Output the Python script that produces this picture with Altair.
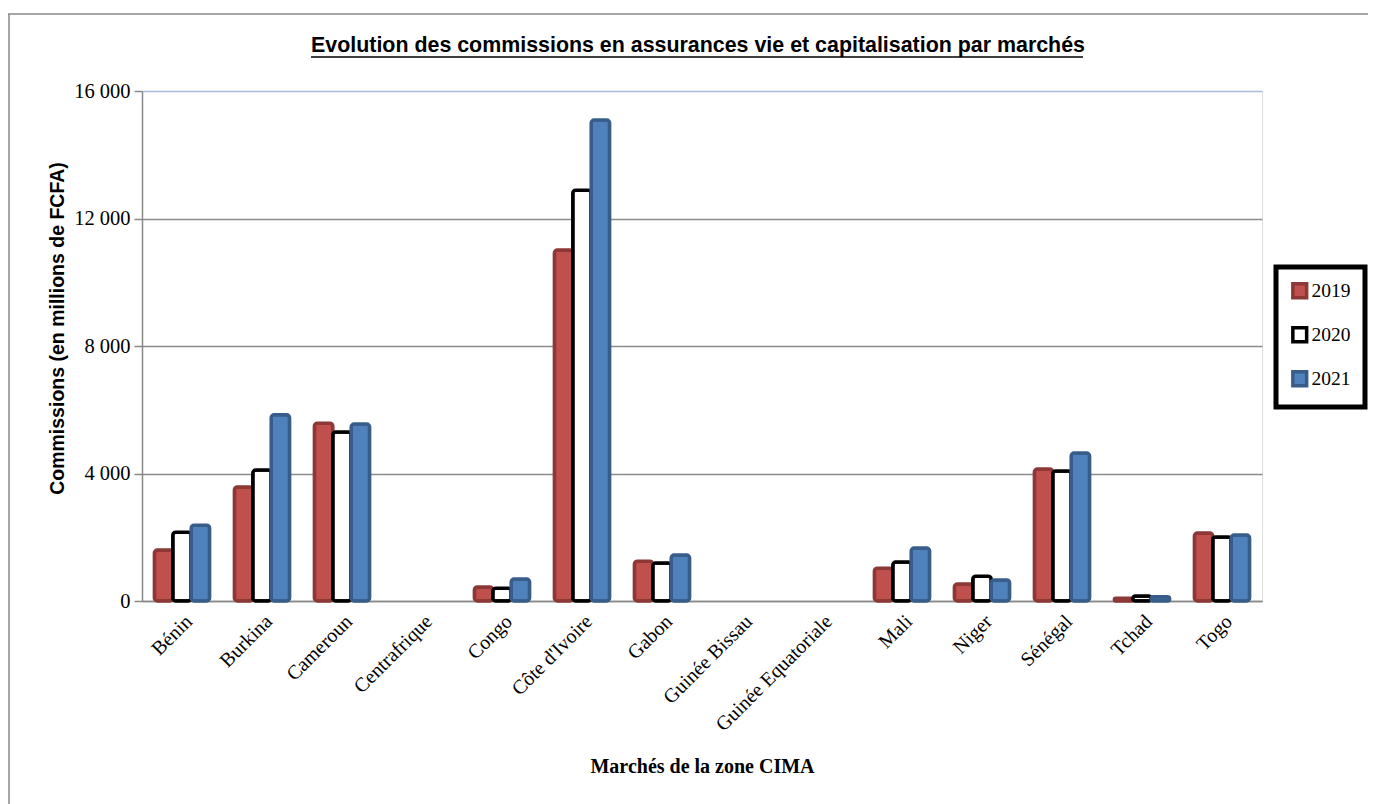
import altair as alt
import pandas as pd

countries = ["Bénin", "Burkina", "Cameroun", "Centrafrique", "Congo", "Côte d'Ivoire", "Gabon",
             "Guinée Bissau", "Guinée Equatoriale", "Mali", "Niger", "Sénégal", "Tchad", "Togo"]
years = ["2019", "2020", "2021"]
v2019 = [1600, 3580, 5580, 0, 440, 11010, 1250, 0, 0, 1030, 530, 4140, 90, 2130]
v2020 = [2160, 4110, 5300, 0, 400, 12890, 1190, 0, 0, 1220, 780, 4080, 160, 2010]
v2021 = [2380, 5840, 5550, 0, 690, 15090, 1440, 0, 0, 1660, 660, 4640, 130, 2070]
y_ticks = [0, 4000, 8000, 12000, 16000]
title_text = "Evolution des commissions en assurances vie et capitalisation par marchés"

fills = ["#C0504D", "#FFFFFF", "#4F81BD"]
strokes = ["#8C3836", "#000000", "#385D8A"]

rows = []
for y, vals in zip(years, [v2019, v2020, v2021]):
    for c, v in zip(countries, vals):
        rows.append({"country": c, "year": y, "value": v})
df = pd.DataFrame(rows)

SERIF = "Liberation Serif"
SANS = "Liberation Sans"

leg = dict(title=None, orient="none", legendX=1134, legendY=176,
           strokeColor="#000000", fillColor="#FFFFFF", padding=14,
           rowPadding=15, symbolType="square", symbolSize=190, symbolStrokeWidth=3.5,
           labelFont=SERIF, labelFontSize=19.5, labelColor="#000000", labelOffset=2,
           cornerRadius=0)

bars = alt.Chart(df).transform_filter("datum.value > 0").mark_bar(
    cornerRadius=3, strokeWidth=3.5
).encode(
    x=alt.X("country:N", sort=countries, title="Marchés de la zone CIMA",
            scale=alt.Scale(domain=countries, paddingInner=0.31, paddingOuter=0.155),
            axis=alt.Axis(labelAngle=-45, labelFont=SERIF, labelFontSize=20, labelColor="#000000",
                          labelPadding=10, ticks=False, domainColor="#888888", domainWidth=1.5,
                          titleFont=SERIF, titleFontSize=20, titleFontWeight="bold",
                          titleColor="#000000", titleY=165, titleBaseline="middle")),
    xOffset=alt.XOffset("year:N", sort=years, scale=alt.Scale(paddingInner=0, paddingOuter=0)),
    y=alt.Y("value:Q", title="Commissions (en millions de FCFA)",
            scale=alt.Scale(domain=[0, 16000], nice=False),
            axis=alt.Axis(values=y_ticks, labelExpr="replace(format(datum.value, ',d'), ',', ' ')",
                          labelFont=SERIF, labelFontSize=20.5, labelColor="#000000", labelPadding=4,
                          tickColor="#888888", tickSize=8, tickWidth=1.5,
                          domainColor="#888888", domainWidth=1.5,
                          gridColor={"condition": {"test": "datum.value === 16000", "value": "#A7BCDA"},
                                     "value": "#8C8C8C"},
                          gridWidth=1.5,
                          titleFont=SANS, titleFontSize=19.5, titleFontWeight="bold",
                          titleColor="#000000", titleX=-85, titleY=237, titleAngle=-90,
                          titleBaseline="middle", titleAlign="center")),
    fill=alt.Fill("year:N", scale=alt.Scale(domain=years, range=fills), legend=alt.Legend(**leg)),
    stroke=alt.Stroke("year:N", scale=alt.Scale(domain=years, range=strokes), legend=alt.Legend(**leg)),
)

one = pd.DataFrame({"a": [0]})
title = alt.Chart(one).mark_text(font=SANS, fontSize=21.4, fontWeight="bold", color="#000000",
                                 align="center", baseline="middle").encode(
    x=alt.value(556), y=alt.value(-45), text=alt.value(title_text))
underline = alt.Chart(one).mark_rule(color="#000000", strokeWidth=1.5).encode(
    x=alt.value(169), x2=alt.value(941), y=alt.value(-34))
frame_left = alt.Chart(one).mark_rule(color="#888888", strokeWidth=1.5).encode(
    x=alt.value(-133), y=alt.value(-77), y2=alt.value(720))
frame_top = alt.Chart(one).mark_rule(color="#888888", strokeWidth=1.5).encode(
    x=alt.value(-134), x2=alt.value(1240), y=alt.value(-77))

chart = alt.layer(frame_left, frame_top, bars, title, underline).properties(
    width=1120, height=510,
    autosize=alt.AutoSizeParams(type="none"),
    padding={"left": 134, "top": 83, "right": 106, "bottom": 203},
).configure_view(stroke="#A7BCDA", strokeWidth=1.5).configure(background="#FFFFFF").configure_legend(strokeWidth=5)

chart.save("out.html", embed_options={"renderer": "svg", "actions": False})
